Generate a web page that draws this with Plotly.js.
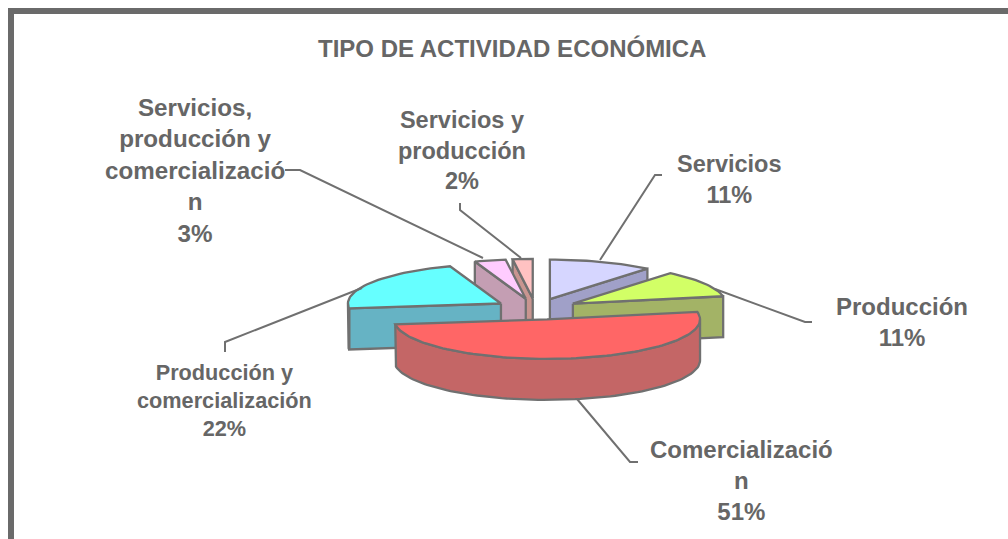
<!DOCTYPE html>
<html>
<head>
<meta charset="utf-8">
<script src="https://cdn.plot.ly/plotly-3.0.1.min.js"></script>
<style>html,body{margin:0;padding:0;background:#fff;overflow:hidden}#c{width:1008px;height:539px}</style>
</head>
<body>
<div id="c"></div>
<script>
// Data
var categories = ["Servicios", "Producción", "Comercialización", "Producción y comercialización", "Servicios, producción y comercialización", "Servicios y producción"];
var values = [11, 11, 51, 21.6, 3.3, 2.1];
var wrappedLabels = ["Servicios", "Producción", "Comercializació<br>n", "Producción y<br>comercialización", "Servicios,<br>producción y<br>comercializació<br>n", "Servicios y<br>producción"];
var chartTitle = "TIPO DE ACTIVIDAD ECONÓMICA";

// Styles
var topColors = ["#D6D6FF", "#D2FF66", "#FF6666", "#66FFFF", "#FFCCFF", "#FFC2C2"];
var wallColors = ["#A0A0C8", "#A3B366", "#C46666", "#66B3C4", "#C49EB3", "#C99590"];
var edge = "#707070", textColor = "#666666";

// Layout of the tilted pie
var cx = 538, cy = 309, rx = 153, ry = 39.5, depth = 41, ex = 42, ey = 10.5, skew = 2.5;
var labelPos = [[729, 179, 23.5], [902, 322, 24], [741, 480, 24], [224, 400, 21.7], [195, 170, 24.2], [462, 150, 23.5]];
var leaders = [
  [[662, 175], [655, 175], [600, 260]],
  [[812, 322], [805, 322], [715, 289]],
  [[638, 462], [630, 462], [577, 399]],
  [[225, 352], [225, 342], [362, 288]],
  [[285, 170], [300, 170], [483, 258]],
  [[460, 203], [460, 210], [521, 258]]
];

var total = values.reduce(function (a, b) { return a + b; }, 0);
var rad = Math.PI / 180;
var slices = [], acc = 0;
values.forEach(function (v, i) {
  var s = acc / total * 360, e = (acc + v) / total * 360, m = (s + e) / 2;
  acc += v;
  slices.push({ i: i, s: s, e: e, m: m,
    ax: cx + ex * Math.sin(m * rad) - skew * Math.cos(m * rad),
    ay: cy - ey * Math.cos(m * rad) });
});
function pt(sl, t) {
  return [sl.ax + rx * Math.sin(t * rad), sl.ay - ry * Math.cos(t * rad)];
}
function poly(pts, color) {
  var x = pts.map(function (p) { return p[0]; }), y = pts.map(function (p) { return p[1]; });
  x.push(x[0]); y.push(y[0]);
  return { type: "scatter", mode: "lines", x: x, y: y, fill: "toself", fillcolor: color,
           line: { color: edge, width: 2.3 }, hoverinfo: "skip", showlegend: false };
}
function down(p) { return [p[0], p[1] + depth]; }
function arc(sl, a, b) {
  var pts = [], n = Math.max(2, Math.ceil(Math.abs(b - a) / 2));
  for (var k = 0; k <= n; k++) pts.push(pt(sl, a + (b - a) * k / n));
  return pts;
}
var traces = [];
slices.slice().sort(function (a, b) { return Math.cos(b.m * rad) - Math.cos(a.m * rad); }).forEach(function (sl) {
  var apex = [sl.ax, sl.ay], wall = wallColors[sl.i];
  if (Math.sin(sl.s * rad) < 0) {
    var p = pt(sl, sl.s);
    traces.push(poly([apex, p, down(p), down(apex)], wall));
  }
  if (Math.sin(sl.e * rad) > 0) {
    var q = pt(sl, sl.e);
    traces.push(poly([apex, q, down(q), down(apex)], wall));
  }
  var a = Math.max(sl.s, 90), b = Math.min(sl.e, 270);
  if (b > a) {
    var top = arc(sl, a, b);
    traces.push(poly(top.concat(top.slice().reverse().map(down)), wall));
  }
  traces.push(poly([apex].concat(arc(sl, sl.s, sl.e)), topColors[sl.i]));
});
leaders.forEach(function (l) {
  traces.push({ type: "scatter", mode: "lines", x: l.map(function (p) { return p[0]; }), y: l.map(function (p) { return p[1]; }),
    line: { color: edge, width: 2 }, hoverinfo: "skip", showlegend: false });
});

var font = "Liberation Sans, Arial, sans-serif";
var annotations = values.map(function (v, i) {
  return { x: labelPos[i][0], y: labelPos[i][1], xref: "x", yref: "y", showarrow: false, xanchor: "center", yanchor: "middle",
    align: "center", text: "<b>" + wrappedLabels[i] + "<br>" + Math.round(v) + "%</b>",
    font: { family: font, size: labelPos[i][2], color: textColor } };
});
annotations.push({ x: 512, y: 48, xref: "x", yref: "y", showarrow: false, xanchor: "center", yanchor: "middle",
  text: "<b>" + chartTitle + "</b>", font: { family: font, size: 24, color: textColor } });

Plotly.newPlot("c", traces, {
  width: 1008, height: 539, margin: { l: 0, r: 0, t: 0, b: 0 },
  paper_bgcolor: "#fff", plot_bgcolor: "#fff", showlegend: false,
  xaxis: { range: [0, 1008], visible: false, fixedrange: true },
  yaxis: { range: [539, 0], visible: false, fixedrange: true },
  annotations: annotations,
  shapes: [
    { type: "rect", xref: "x", yref: "y", x0: 8, x1: 1008, y0: 8, y1: 14, fillcolor: "#6A6A6A", line: { width: 0 } },
    { type: "rect", xref: "x", yref: "y", x0: 8, x1: 14, y0: 8, y1: 539, fillcolor: "#6A6A6A", line: { width: 0 } }
  ]
}, { displayModeBar: false, staticPlot: true });
</script>
</body>
</html>
